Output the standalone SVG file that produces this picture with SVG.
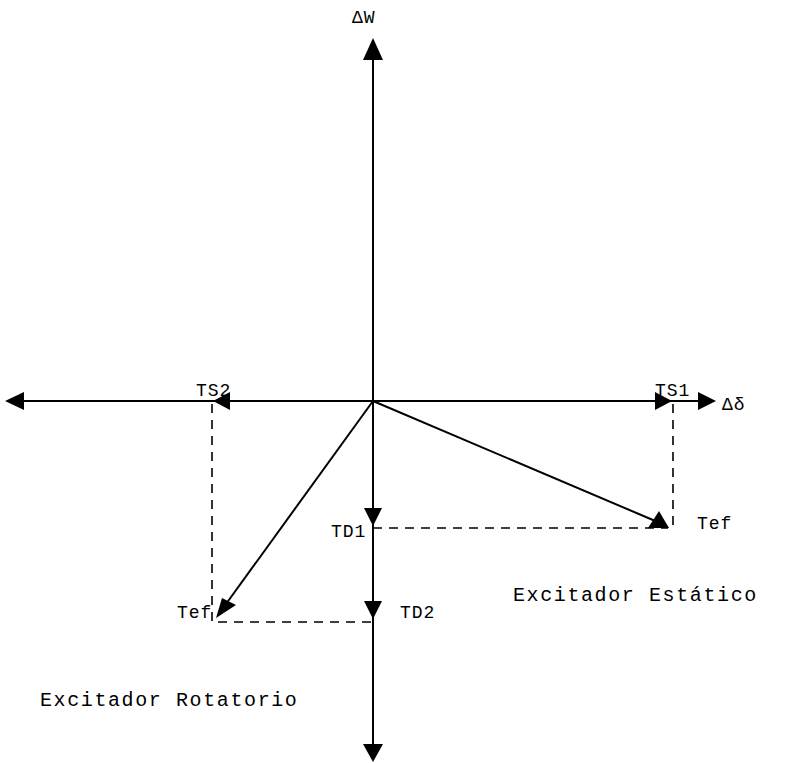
<svg xmlns="http://www.w3.org/2000/svg" width="788" height="763" viewBox="0 0 788 763">
<style>
.ax{stroke:#000;stroke-width:2;fill:none}
.ds{stroke:#000;stroke-width:1.6;fill:none;stroke-dasharray:9,7}
.ah{fill:#000}
.t{font-family:"Liberation Mono",monospace;font-size:18px;fill:#000;letter-spacing:1px}
.big{font-family:"Liberation Mono",monospace;font-size:20px;fill:#000;letter-spacing:1.6px}
</style>
<g id="connectors">
<line class="ax" x1="373" y1="58" x2="373" y2="745"/>
<line class="ax" x1="22" y1="401" x2="700" y2="401"/>
<line class="ds" x1="212" y1="404" x2="212" y2="622"/>
<line class="ds" x1="673" y1="404" x2="673" y2="528"/>
<line class="ds" x1="373" y1="528" x2="668" y2="528"/>
<line class="ds" x1="218" y1="622" x2="373" y2="622"/>
<line class="ax" x1="373" y1="401" x2="660" y2="523"/>
<line class="ax" x1="373" y1="401" x2="226" y2="604"/>
</g>
<g id="arrowheads">
<polygon class="ah" points="373,38 363,60 383,60"/>
<polygon class="ah" points="373,762 363,744 383,744"/>
<polygon class="ah" points="5,401 24,392 24,410"/>
<polygon class="ah" points="716,401 698,392 698,410"/>
<polygon class="ah" points="213,401 230,392 230,410"/>
<polygon class="ah" points="672,401 655,392 655,410"/>
<polygon class="ah" points="373,526 364,508 382,508"/>
<polygon class="ah" points="373,619 364,601 382,601"/>
<polygon class="ah" points="669,528 659,511 648,528"/>
<polygon class="ah" points="216,618 236,605 222,598"/>
</g>
<g id="labels">
<text class="t" x="352" y="23">ΔW</text>
<text class="t" x="722" y="410">Δδ</text>
<text class="t" x="196" y="396">TS2</text>
<text class="t" x="655" y="396">TS1</text>
<text class="t" x="331" y="537">TD1</text>
<text class="t" x="697" y="529">Tef</text>
<text class="t" x="400" y="618">TD2</text>
<text class="t" x="177" y="618">Tef</text>
<text class="big" x="513" y="601">Excitador Estático</text>
<text class="big" x="40" y="706">Excitador Rotatorio</text>
</g>
</svg>
